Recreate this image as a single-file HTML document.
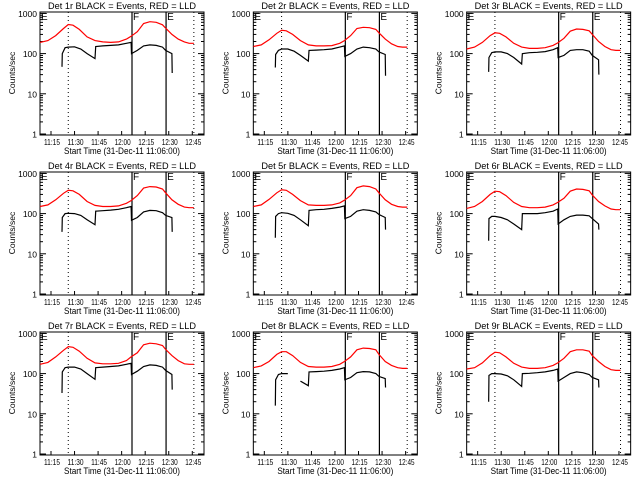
<!DOCTYPE html>
<html><head><meta charset="utf-8"><style>
html,body{margin:0;padding:0;background:#fff;}
svg{display:block;font-family:"Liberation Sans",sans-serif;}
</style></head><body>
<svg id="chart" width="640" height="480" viewBox="0 0 640 480" xmlns="http://www.w3.org/2000/svg">
<rect x="0" y="0" width="640" height="480" fill="#fff"/>
</svg>
<script>
const detNames = ["1r","2r","3r","4r","5r","6r","7r","8r","9r"];
const redTimes = [0,5,10,15,18,21,25,30,35,40,45,50,55,58,62,66,70,74,78,80,84,88,92,95,98];
const blackTimes = [14,14.2,16,18,22,26,30,35,35.5,40,45,50,55,58,58.3,62,66,70,74,78,80,84,84.2];
const red1 = [190,210,280,420,530,510,400,260,210,195,190,195,230,270,350,560,620,600,520,430,300,230,195,180,180];
const red2 = [150,165,220,320,380,370,300,210,165,155,155,158,180,210,280,420,450,440,400,330,230,175,150,145,145];
const red3 = [130,145,190,280,330,320,260,180,145,135,135,140,160,185,240,360,410,400,370,300,200,150,125,120,120];
const red4 = [150,165,220,320,380,370,300,200,160,150,150,155,180,210,280,430,470,460,410,330,220,170,145,140,140];
const red5 = [150,165,225,330,390,380,300,210,165,160,160,165,185,215,280,440,490,470,410,330,220,170,150,145,145];
const red6 = [135,150,200,300,360,350,280,190,150,140,140,145,165,190,240,360,410,400,370,290,200,155,130,125,125];
const red7 = [170,190,260,380,470,450,360,240,185,175,175,180,210,260,330,520,570,550,500,400,280,210,175,170,170];
const red8 = [140,155,200,300,350,350,280,190,150,145,145,150,170,200,260,390,430,420,390,300,200,160,140,135,135];
const red9 = [130,140,185,280,340,330,260,180,145,135,135,140,160,185,240,350,390,390,360,280,200,150,125,120,120];
const blk1 = [47,100,140,145,148,130,100,75,150,155,160,165,180,190,100,120,155,165,160,145,120,100,33];
const blk2 = [45,95,120,130,130,115,90,65,120,122,125,130,145,155,85,100,130,145,140,130,110,95,28];
const blk3 = [35,80,105,110,110,100,80,55,100,105,108,112,125,140,80,90,120,125,125,115,90,70,30];
const blk4 = [35,80,100,102,100,90,70,53,115,118,122,128,140,150,68,80,110,120,118,105,90,80,35];
const blk5 = [25,85,100,105,102,90,70,50,120,125,128,135,145,155,75,85,115,125,120,110,95,80,40];
const blk6 = [21,75,85,85,80,70,55,40,100,100,100,105,115,130,55,70,85,92,92,88,75,55,40];
const blk7 = [33,110,140,145,145,130,100,72,140,145,150,155,170,180,95,115,150,165,160,145,120,95,40];
const blk8 = [16,70,95,100,100,null,65,50,110,112,115,120,130,140,70,80,105,112,110,100,85,75,45];
const blk9 = [20,90,100,100,98,88,70,48,100,102,105,110,120,130,65,80,100,110,105,95,80,70,45];
const redSeries = [red1,red2,red3,red4,red5,red6,red7,red8,red9];
const blackSeries = [blk1,blk2,blk3,blk4,blk5,blk6,blk7,blk8,blk9];
const xTickLabels = ["11:15","11:30","11:45","12:00","12:15","12:30","12:45"];
const xTickTimes = [7,22,37,52,67,82,97];
const yTickValues = [1,10,100,1000];
const dottedTimes = [18,98];
const solidTimes = [58.6,80.3];

const NS="http://www.w3.org/2000/svg";
const svg=document.getElementById('chart');
function mk(tag,attrs,parent){const e=document.createElementNS(NS,tag);for(const k in attrs)e.setAttribute(k,attrs[k]);parent.appendChild(e);return e;}
const L=40,R=204,T=12,B=135;
function xs(t){return L+t*1.57;}
function ys(v){return 134-40.2*Math.log10(v);}

for(let p=0;p<9;p++){
  const c=p%3,r=Math.floor(p/3);
  const g=mk('g',{transform:`translate(${(c*213.33).toFixed(2)},${r*160})`},svg);
  
  
  const title=mk('text',{x:122,y:9,'font-size':9.5,'text-anchor':'middle',fill:'#000',textLength:148,lengthAdjust:'spacingAndGlyphs'},g);
  title.textContent='Det '+detNames[p]+' BLACK = Events, RED = LLD';
  
  
  const frame=mk('rect',{x:L,y:T,width:R-L,height:B-T,fill:'none',stroke:'#000','stroke-width':1},g);
  
  
  for(let d=0;d<4;d++){
    for(let m=1;m<10;m++){
      const v=yTickValues[d]*m; if(v>1085)break;
      const y=ys(v); const len=m===1?6:3;
      mk('line',{x1:L,y1:y,x2:L+len,y2:y,stroke:'#000'},g);
      mk('line',{x1:R,y1:y,x2:R-len,y2:y,stroke:'#000'},g);
    }
    const lb=mk('text',{x:37,y:ys(yTickValues[d])+3.5,'font-size':8.5,'text-anchor':'end',fill:'#000'},g);
    lb.textContent=String(yTickValues[d]);
    
    
  }
  xTickTimes.forEach((t,i)=>{
    mk('line',{x1:xs(t),y1:B,x2:xs(t),y2:B-4,stroke:'#000'},g);
    const lb=mk('text',{x:xs(t)+1,y:145,'font-size':8,'text-anchor':'middle',fill:'#000',textLength:16,lengthAdjust:'spacingAndGlyphs'},g);
    lb.textContent=xTickLabels[i];
    
    
  });
  const xt=mk('text',{x:122,y:154,'font-size':9,'text-anchor':'middle',fill:'#000',textLength:116,lengthAdjust:'spacingAndGlyphs'},g);
  xt.textContent='Start Time (31-Dec-11 11:06:00)';
  
  
  const yt=mk('text',{x:0,y:0,'font-size':8.5,'text-anchor':'middle',fill:'#000',transform:'translate(15,73) rotate(-90)'},g);
  yt.textContent='Counts/sec';
  
  
  dottedTimes.forEach(t=>{
    const ln=mk('line',{x1:xs(t),y1:T,x2:xs(t),y2:B,stroke:'#000','stroke-dasharray':'1,3'},g);
    
    
  });
  solidTimes.forEach(t=>{
    const ln=mk('line',{x1:xs(t),y1:T,x2:xs(t),y2:B,stroke:'#000','stroke-width':1.2},g);
    
    
  });
  [['E',41],['F',xs(solidTimes[0])+1],['E',xs(solidTimes[1])+1]].forEach(a=>{
    const tx=mk('text',{x:a[1],y:20,'font-size':10,fill:'#000'},g);
    tx.textContent=a[0];
    
    
  });
  const rd=redSeries[p].map((v,i)=>xs(redTimes[i]).toFixed(1)+','+ys(v).toFixed(1)).join(' ');
  const rl=mk('polyline',{points:rd,fill:'none',stroke:'#f00','stroke-width':1.2},g);
  
  
  let segs=[],cur=[];
  blackSeries[p].forEach((v,i)=>{
    if(v==null){if(cur.length)segs.push(cur);cur=[];}
    else cur.push(xs(blackTimes[i]).toFixed(1)+','+ys(v).toFixed(1));
  });
  if(cur.length)segs.push(cur);
  segs.forEach(s=>{
    const bl=mk('polyline',{points:s.join(' '),fill:'none',stroke:'#000','stroke-width':1.2},g);
    
    
  });
}
</script>
</body></html>
